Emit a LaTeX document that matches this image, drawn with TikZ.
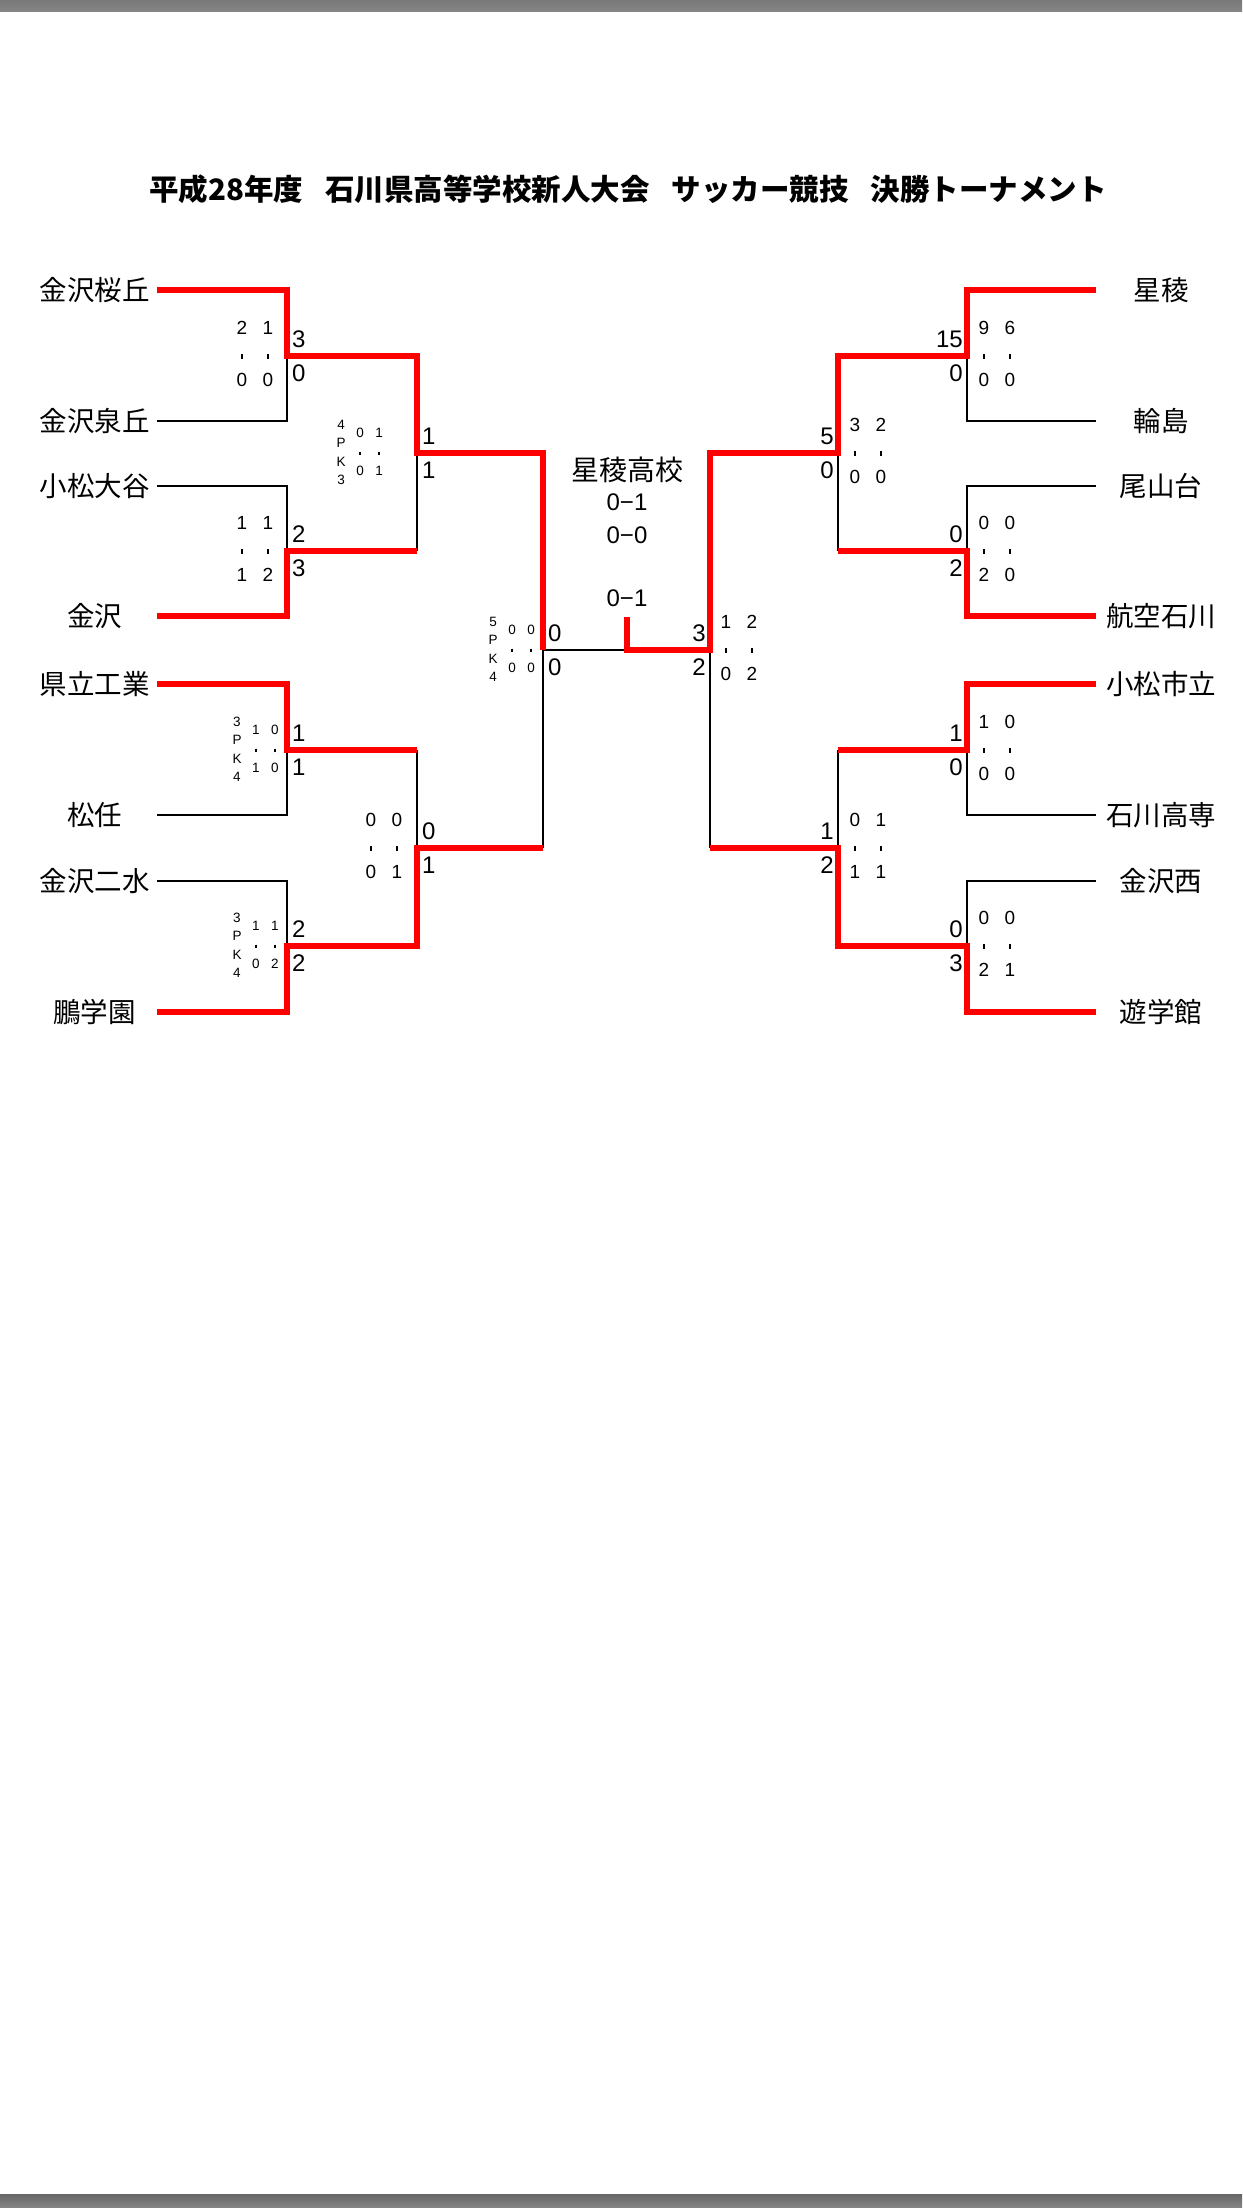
\documentclass[tikz,border=0pt]{standalone}
\usepackage{fontspec}
\setmainfont{Liberation Sans}
\newfontfamily\jp{Noto Sans CJK JP}
\tikzset{
  redln/.style={draw=red, line width=6.5pt, line join=miter},
  blkln/.style={draw=black, line width=2pt},
  team/.style={font=\jp\fontsize{27.5}{30}\selectfont, inner sep=0pt},
  bigsc/.style={font=\fontsize{24}{26}\selectfont, inner sep=0pt},
  htsc/.style={font=\fontsize{19}{21}\selectfont, inner sep=0pt},
  pksc/.style={font=\fontsize{13.5}{15}\selectfont, inner sep=0pt},
  tk/.style={line width=2pt},
  tks/.style={line width=1.3pt},
}
% big scores, left side (text right of the line)
\newcommand\scL[5]{%
  \node[bigsc,anchor=west] (#1t) at ({#2+5},{#3-17}) {#4};
  \node[bigsc,anchor=west] (#1b) at ({#2+5},{#3+17}) {#5};}
% big scores, right side (text left of the line)
\newcommand\scR[5]{%
  \node[bigsc,anchor=east] (#1t) at ({#2-4},{#3-17}) {#4};
  \node[bigsc,anchor=east] (#1b) at ({#2-4},{#3+17}) {#5};}
% half-time columns
\newcommand\htcols[7]{%
  \node[htsc] (#1a) at ({#2},{#3-28}) {#4};
  \node[htsc] (#1b) at ({#2+26},{#3-28}) {#5};
  \node[htsc] (#1c) at ({#2},{#3+24}) {#6};
  \node[htsc] (#1d) at ({#2+26},{#3+24}) {#7};
  \draw[tk] ({#2},{#3-2}) -- ({#2},{#3+3});
  \draw[tk] ({#2+26},{#3-2}) -- ({#2+26},{#3+3});}
% PK columns
\newcommand\pkcols[9]{%
  \node[pksc] (#1n) at ({#2},{#3-28.5}) {#4};
  \node[pksc] (#1p) at ({#2},{#3-10}) {P};
  \node[pksc] (#1k) at ({#2},{#3+8.5}) {K};
  \node[pksc] (#1m) at ({#2},{#3+27}) {#5};
  \node[pksc] (#1a) at ({#2+19},{#3-20}) {#6};
  \node[pksc] (#1b) at ({#2+38},{#3-20}) {#7};
  \node[pksc] (#1c) at ({#2+19},{#3+17.5}) {#8};
  \node[pksc] (#1d) at ({#2+38},{#3+17.5}) {#9};
  \draw[tks] ({#2+19},{#3-1.5}) -- ({#2+19},{#3+2});
  \draw[tks] ({#2+38},{#3-1.5}) -- ({#2+38},{#3+2});}
\begin{document}
\begin{tikzpicture}[x=1pt,y=-1pt]
\useasboundingbox (0,0) rectangle (1242,2208);
\fill[white] (0,0) rectangle (1242,2208);
\shade[top color=gray!95!black, bottom color=gray!95] (0,0) rectangle (1242,12);
\shade[top color=gray!80!black, bottom color=gray!95] (0,2194) rectangle (1242,2208);

% title
\node[font=\jp\bfseries\fontsize{29.5}{32}\selectfont, inner sep=0pt] (title) at (628,189)
  {平成28年度\hspace{0.75em}石川県高等学校新人大会\hspace{0.75em}サッカー競技\hspace{0.75em}決勝トーナメント};

% coordinates, left
\coordinate (lt1) at (157,290);  \coordinate (lt2) at (157,421);
\coordinate (lt3) at (157,486);  \coordinate (lt4) at (157,616);
\coordinate (lt5) at (157,684);  \coordinate (lt6) at (157,815);
\coordinate (lt7) at (157,881);  \coordinate (lt8) at (157,1012);
\coordinate (lj1) at (287,356);  \coordinate (lj2) at (287,551);
\coordinate (lj3) at (287,750);  \coordinate (lj4) at (287,946);
\coordinate (lk1) at (417,453);  \coordinate (lk2) at (417,848);
\coordinate (ls) at (543,650);
\coordinate (fin) at (627,650);  \coordinate (fintop) at (627,617);
% coordinates, right
\coordinate (rt1) at (1096,290);  \coordinate (rt2) at (1096,421);
\coordinate (rt3) at (1096,486);  \coordinate (rt4) at (1096,616);
\coordinate (rt5) at (1096,684);  \coordinate (rt6) at (1096,815);
\coordinate (rt7) at (1096,881);  \coordinate (rt8) at (1096,1012);
\coordinate (rj1) at (967,356);  \coordinate (rj2) at (967,551);
\coordinate (rj3) at (967,750);  \coordinate (rj4) at (967,946);
\coordinate (rk1) at (838,453);  \coordinate (rk2) at (838,848);
\coordinate (rs) at (710,650);

% team names
\node[team] (n1) at (94.5,290) {金沢桜丘};
\node[team] (n2) at (94.5,421) {金沢泉丘};
\node[team] (n3) at (94.5,486) {小松大谷};
\node[team] (n4) at (94.5,616) {金沢};
\node[team] (n5) at (94.5,684) {県立工業};
\node[team] (n6) at (94.5,815) {松任};
\node[team] (n7) at (94.5,881) {金沢二水};
\node[team] (n8) at (94.5,1012) {鵬学園};
\node[team] (m1) at (1161,290) {星稜};
\node[team] (m2) at (1161,421) {輪島};
\node[team] (m3) at (1161,486) {尾山台};
\node[team] (m4) at (1161,616) {航空石川};
\node[team] (m5) at (1161,684) {小松市立};
\node[team] (m6) at (1161,815) {石川高専};
\node[team] (m7) at (1161,881) {金沢西};
\node[team] (m8) at (1161,1012) {遊学館};

% black lines
\draw[blkln] (lt2) -| (lj1);
\draw[blkln] (lt3) -| (lj2);
\draw[blkln] (lj2 -| lk1) -- (lk1);
\draw[blkln] (lt6) -| (lj3);
\draw[blkln] (lj3 -| lk2) -- (lk2);
\draw[blkln] (lt7) -| (lj4);
\draw[blkln] (lk2 -| ls) -- (ls) -- (fin);
\draw[blkln] (rt2) -| (rj1);
\draw[blkln] (rt3) -| (rj2);
\draw[blkln] (rj2 -| rk1) -- (rk1);
\draw[blkln] (rt6) -| (rj3);
\draw[blkln] (rj3 -| rk2) -- (rk2);
\draw[blkln] (rt7) -| (rj4);
\draw[blkln] (rk2 -| rs) -- (rs);

% red lines (winners)
\draw[redln] (lt1) -| (lj1) -| (lk1) -| (ls);
\draw[redln] (lt4) -| (lj2) -- (lj2 -| lk1);
\draw[redln] (lt5) -| (lj3) -- (lj3 -| lk2);
\draw[redln] (lt8) -| (lj4) -| (lk2) -- (lk2 -| ls);
\draw[redln] (fintop) -- (fin) -- (rs) |- (rk1) |- (rj1) |- (rt1);
\draw[redln] (rt4) -| (rj2) -- (rj2 -| rk1);
\draw[redln] (rt5) -| (rj3) -- (rj3 -| rk2);
\draw[redln] (rt8) -| (rj4) -| (rk2) -- (rk2 -| rs);

% final result
\node[font=\jp\fontsize{28}{30}\selectfont, inner sep=0pt] (champ) at (627,470) {星稜高校};
\node[bigsc] (f1) at (627,502) {0−1};
\node[bigsc] (f2) at (627,535) {0−0};
\node[bigsc] (f3) at (627,598) {0−1};

% big scores
\scL{s1}{287}{356}{3}{0}
\scL{s2}{287}{551}{2}{3}
\scL{s3}{287}{750}{1}{1}
\scL{s4}{287}{946}{2}{2}
\scL{s5}{417}{453}{1}{1}
\scL{s6}{417}{848}{0}{1}
\scL{s7}{543}{650}{0}{0}
\scR{s8}{967}{356}{15}{0}
\scR{s9}{967}{551}{0}{2}
\scR{s10}{967}{750}{1}{0}
\scR{s11}{967}{946}{0}{3}
\scR{s12}{838}{453}{5}{0}
\scR{s13}{838}{848}{1}{2}
\scR{s14}{710}{650}{3}{2}

% half-time scores
\htcols{h1}{242}{356}{2}{1}{0}{0}
\htcols{h2}{242}{551}{1}{1}{1}{2}
\htcols{h3}{371}{848}{0}{0}{0}{1}
\htcols{h4}{984}{356}{9}{6}{0}{0}
\htcols{h5}{984}{551}{0}{0}{2}{0}
\htcols{h6}{984}{750}{1}{0}{0}{0}
\htcols{h7}{984}{946}{0}{0}{2}{1}
\htcols{h8}{855}{453}{3}{2}{0}{0}
\htcols{h9}{855}{848}{0}{1}{1}{1}
\htcols{h10}{726}{650}{1}{2}{0}{2}

% PK games
\pkcols{p1}{237}{750}{3}{4}{1}{0}{1}{0}
\pkcols{p2}{237}{946}{3}{4}{1}{1}{0}{2}
\pkcols{p3}{341}{453}{4}{3}{0}{1}{0}{1}
\pkcols{p4}{493}{650}{5}{4}{0}{0}{0}{0}
\end{tikzpicture}
\end{document}
